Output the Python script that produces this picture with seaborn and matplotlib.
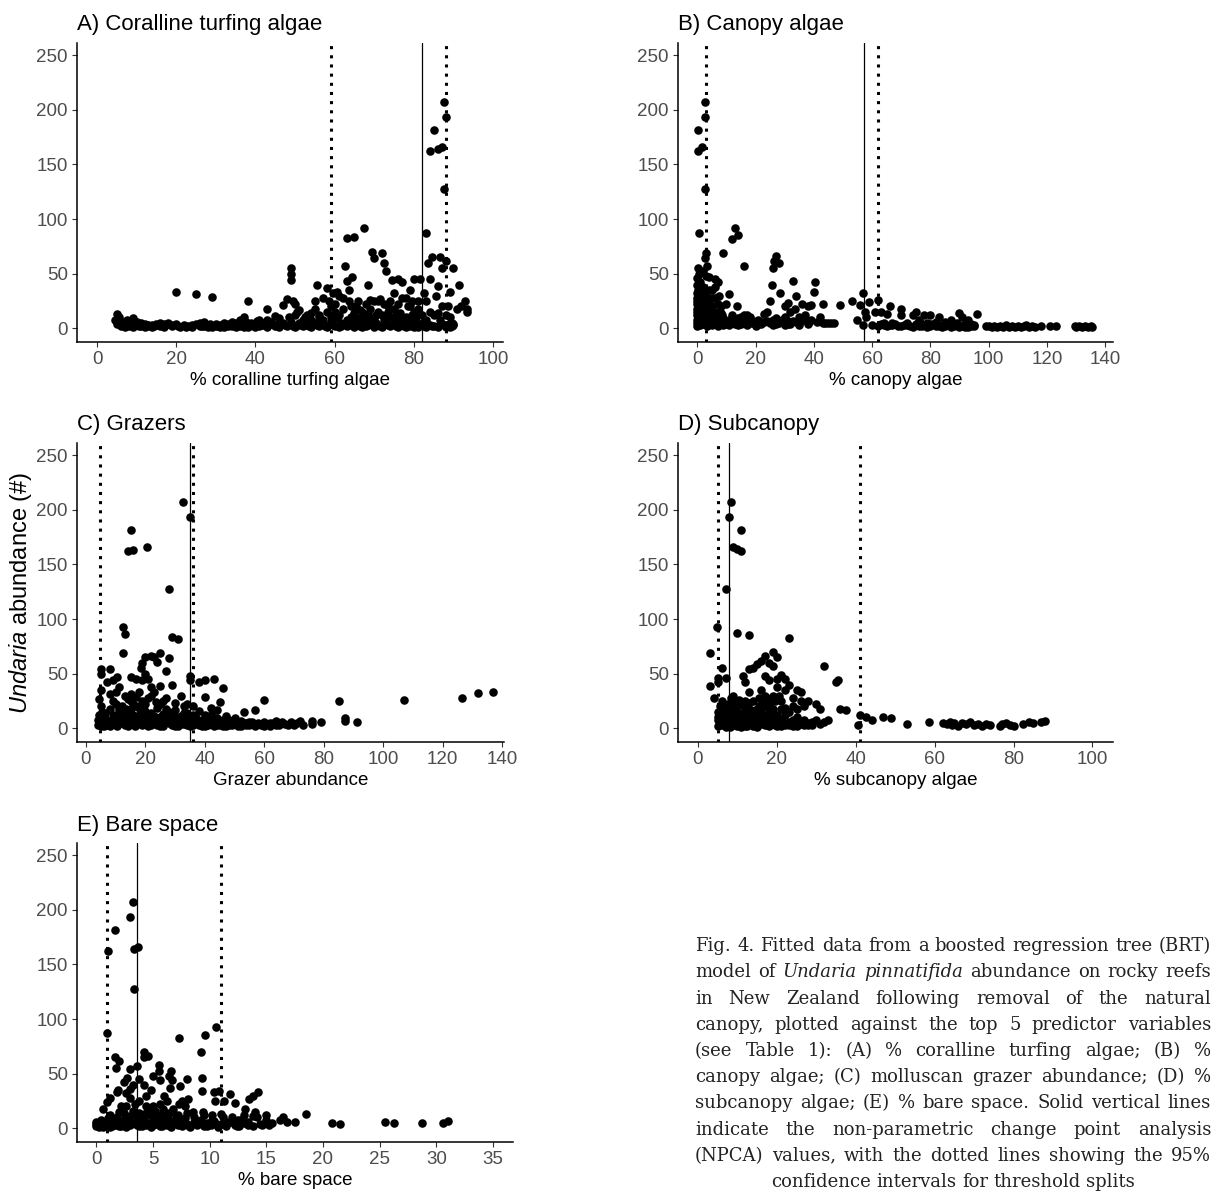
import matplotlib
matplotlib.use('Agg')
import matplotlib.pyplot as plt
import seaborn as sns
import pandas as pd

sns.set_style('white')
plt.rcParams['font.family'] = ['Liberation Sans', 'DejaVu Sans']
plt.rcParams['mathtext.fontset'] = 'custom'
plt.rcParams['mathtext.rm'] = 'Liberation Sans'
plt.rcParams['mathtext.it'] = 'Liberation Sans:italic'

# ---- data: (predictor value, Undaria abundance) ----
coral_pts = [
    (4.5, 8), (5, 13), (5.5, 10), (6, 5), (7, 3), (7.5, 8), (8, 5), (9, 9), (10, 4), (11, 2), (12, 4),
    (13, 2), (14, 3), (15, 4), (16, 5), (17, 4), (18, 5), (19, 3), (20, 33), (20.5, 2), (21, 1), (24, 3),
    (25, 31), (26, 5), (27, 2), (28, 1), (29, 29), (30, 2), (31, 3), (32, 1), (33, 4), (34, 2), (35, 5),
    (36, 8), (36.5, 3), (37, 10), (38, 25), (38.5, 2), (39, 5), (40, 3), (41, 8), (42, 3), (43, 18),
    (44, 4), (45, 2), (46, 5), (47, 21), (48, 27), (48.5, 10), (49, 55), (49, 50), (49, 44), (49.5, 25),
    (50, 22), (50.5, 15), (51, 5), (52, 8), (53, 3), (54, 14), (55, 18), (55.5, 40), (56, 10), (57, 5),
    (58, 37), (58.5, 25), (59, 20), (59.5, 32), (60, 15), (61, 30), (61.5, 5), (62, 18), (62.5, 57),
    (63, 43), (63, 83), (63.5, 25), (64, 10), (64.5, 47), (65, 84), (65.5, 20), (66, 8), (67, 15),
    (67.5, 92), (68, 5), (68.5, 40), (69, 26), (69.5, 70), (70, 64), (70.5, 12), (71, 25), (72, 69),
    (72.5, 60), (73, 52), (73.5, 20), (74, 10), (74.5, 44), (75, 32), (75.5, 12), (76, 45), (77, 42),
    (77.5, 5), (78, 28), (78.5, 20), (79, 35), (79.5, 12), (80, 45), (80.5, 3), (81, 25), (81.5, 45),
    (82, 5), (82.5, 32), (83, 87), (83.5, 60), (84, 162), (84, 45), (84.5, 65), (85, 181), (85.5, 30),
    (86, 164), (86, 39), (86.5, 65), (87, 166), (87, 55), (87.5, 127), (87.5, 207), (88, 193), (88, 62),
    (88.5, 20), (89, 33), (89.5, 5), (90, 55), (91.5, 40), (92, 20), (93, 25), (93.5, 15), (93.5, 18),
    (6, 2), (6.5, 6), (7, 1), (8, 2), (8.5, 7), (9, 1), (10, 6), (11, 5), (12, 1), (13, 3), (14, 1),
    (15, 3), (16, 2), (17, 1), (18, 4), (19, 2), (22, 3), (23, 2), (24, 1), (25, 4), (26, 2), (27, 6),
    (28, 3), (29, 1), (30, 4), (31, 1), (32, 5), (33, 2), (34, 6), (35, 1), (35.5, 3), (36, 2), (37, 1),
    (37.5, 6), (38, 1), (39, 3), (40, 1), (40.5, 7), (41, 2), (42, 5), (43, 1), (44, 6), (45, 3), (46, 1),
    (47, 5), (48, 2), (49, 6), (50, 1), (51, 3), (52, 2), (52.5, 10), (53, 6), (54, 1), (55, 5), (56, 2),
    (57, 8), (58, 1), (59, 6), (60, 2), (60.5, 9), (61, 1), (62, 4), (63, 2), (64, 6), (65, 1), (65.5, 9),
    (66, 3), (67, 1), (67.5, 6), (68, 2), (69, 9), (70, 1), (70.5, 5), (71, 3), (72, 1), (72.5, 8),
    (73, 4), (74, 2), (75, 6), (76, 1), (76.5, 9), (77, 3), (78, 1), (78.5, 6), (79, 2), (80, 8), (81, 1),
    (81.5, 4), (82.5, 2), (83, 1), (84, 3), (85, 2), (86, 1), (87, 4), (88, 2), (88.5, 3), (89, 1),
    (55, 25), (56, 12), (57, 28), (58, 15), (59, 10), (60, 22), (60.5, 33), (61, 12), (62, 28), (63, 8),
    (63.5, 35), (64, 20), (65, 14), (66, 25), (66.5, 17), (67, 10), (68, 22), (68.5, 13), (69, 18),
    (70, 25), (70, 8), (71, 15), (71.5, 27), (72, 12), (72.5, 22), (73, 9), (73.5, 15), (74, 25),
    (75, 18), (75.5, 7), (76, 22), (76.5, 14), (77, 28), (78, 10), (79, 20), (79.5, 25), (80, 15),
    (80.5, 10), (81, 18), (82, 12), (83, 25), (83, 8), (84, 15), (85, 12), (86, 14), (86.5, 8), (87, 20),
    (88, 12), (89, 10), (89, 4), (90, 3), (91, 18),
    (5, 4), (6.5, 3), (9.5, 3), (10.5, 2), (12.5, 3), (14.5, 2), (20, 4), (22.5, 1), (26.5, 2), (28.5, 4),
    (30.5, 2), (33.5, 3), (36, 5), (38.5, 4), (41.5, 3), (43.5, 4), (45.5, 2), (47.5, 3), (49.5, 2),
    (51.5, 4), (53.5, 2), (55.5, 3), (57.5, 2), (59.5, 3), (61.5, 2), (63.5, 3), (66.5, 2), (68.5, 3),
    (71.5, 2), (73.5, 3), (75.5, 2), (77.5, 2), (79.5, 3), (80, 1), (82, 3), (84.5, 2), (86.5, 3), (88, 1),
    (89.5, 2), (90, 4), (43, 8), (46, 9), (50, 12), (51, 17), (53, 12), (54, 8), (45, 11),
]

canopy_pts = [
    (0.3, 181), (0.3, 162), (1.8, 166), (2.5, 207), (2.5, 193), (2.5, 127), (0.5, 87), (3, 69), (2.8, 64),
    (3.3, 57), (0.2, 55), (0.5, 50), (0, 46), (1, 42), (2, 52), (3, 48), (4, 47), (5, 35), (6, 45),
    (7, 42), (7.5, 30), (8, 20), (9, 69), (10, 22), (11, 31), (12, 82), (13, 92), (13.5, 20), (14, 85),
    (15, 10), (16, 57), (17, 12), (18, 10), (19, 5), (20, 3), (21, 8), (22, 6), (23, 13), (24, 15),
    (25, 25), (25.5, 40), (26, 55), (26.5, 62), (27, 66), (28, 60), (28.5, 32), (29, 8), (30, 20),
    (31, 23), (32, 15), (33, 43), (33.5, 18), (34, 30), (35, 10), (36, 22), (37, 8), (38, 20), (38.5, 6),
    (39, 21), (40, 33), (40.5, 42), (42, 10), (43, 22), (44, 5), (47, 5), (49, 21), (53, 25), (55, 8),
    (56, 21), (57, 32), (57.5, 15), (57, 3), (58, 10), (59, 24), (61, 15), (62, 26), (63, 15), (64, 5),
    (65, 13), (66, 20), (67, 5), (70, 18), (70, 12), (72, 5), (74, 12), (75, 15), (76, 8), (77, 4),
    (78, 12), (79, 5), (80, 12), (82, 6), (83, 10), (84, 3), (85, 6), (86, 4), (87, 8), (88, 3), (89, 5),
    (90, 14), (91, 10), (92, 4), (93, 8), (94, 4), (96, 13),
    (0, 2), (0, 8), (0, 15), (0, 22), (0, 28), (0.2, 35), (0.5, 5), (0.5, 12), (0.8, 19), (1, 26), (1, 3),
    (1.5, 9), (1.5, 31), (2, 14), (2, 38), (2.2, 4), (2.5, 22), (3, 10), (3, 30), (3.5, 2), (3.5, 17),
    (4, 7), (4, 25), (4.5, 13), (5, 3), (5, 20), (5.5, 9), (6, 5), (6, 28), (6.5, 15), (7, 2), (7.5, 8),
    (8, 4), (8.5, 12), (9, 3), (10, 6), (11, 3), (12, 7), (13, 4), (14, 9), (15, 4), (16, 6), (17, 3),
    (18, 5), (19, 7), (20, 2), (22, 4), (24, 7), (26, 3), (27, 9), (28, 5), (30, 3), (31, 7), (32, 4),
    (34, 6), (35, 3), (36, 8), (38, 4), (45, 5),
    (0, 5), (0, 12), (0, 18), (0, 25), (0, 32), (0, 40), (0.5, 9), (0.5, 16), (0.5, 30), (1, 6), (1, 14),
    (1, 20), (1, 35), (1.5, 4), (1.5, 24), (2, 8), (2, 18), (2, 28), (2.5, 12), (2.5, 33), (3, 5), (3, 20),
    (3.5, 8), (3.5, 25), (4, 12), (4, 35), (4.5, 5), (4.5, 20), (5, 10), (5, 28), (5.5, 15), (6, 8),
    (6, 38), (6.5, 4), (7, 12), (7, 22), (8, 6), (8, 14), (9, 9), (10, 4), (11, 8), (12, 12), (13, 6),
    (14, 3), (15, 8), (16, 12), (17, 5), (18, 8), (20, 6), (21, 4), (23, 6), (25, 5), (26, 8), (27, 4),
    (29, 6), (30, 10), (31, 4), (33, 7), (35, 5), (37, 12), (39, 8), (41, 6), (43, 5), (46, 5),
    (60, 3), (62, 2), (63, 4), (66, 3), (68, 4), (69, 2), (71, 3), (73, 2), (75, 4), (76, 2), (78, 3),
    (79, 1), (80, 2), (81, 4), (82, 2), (84, 1), (85, 2), (87, 1), (88, 2), (89, 3), (90, 1), (91, 2),
    (92, 3), (93, 1), (94, 2), (95, 3), (99, 2), (100, 2), (101, 1), (102, 2), (103, 1), (104, 2),
    (105, 1), (106, 3), (107, 1), (108, 2), (109, 1), (110, 2), (111, 1), (112, 2), (113, 3), (114, 1),
    (115, 2), (116, 1), (118, 2), (121, 2), (123, 2), (129.5, 2), (130, 1), (131, 2), (132, 1), (133, 2),
    (134, 1), (135, 2), (135.5, 1),
    (64, 3), (65, 2), (67, 3), (70, 2), (72, 3), (74, 1), (77, 2), (80, 4), (83, 2), (86, 3), (90, 2),
    (92, 1), (95, 2),
]

grazer_pts = [
    (32.5, 207), (35, 193), (15, 181), (14, 162), (16, 163), (20.5, 166), (28, 127), (12.5, 93), (13, 86),
    (29, 84), (31, 82), (12.5, 69), (25, 69), (22, 66), (20, 65), (23, 65), (19, 60), (18.5, 55), (24, 61),
    (28, 64), (27, 52), (5, 54), (5, 50), (8, 54), (10.5, 47), (15, 47), (17, 45), (19, 44), (20, 50),
    (22, 38), (25, 39), (29, 40), (35, 48), (35, 44), (38, 42), (40, 44), (43, 45), (46, 37), (40, 29),
    (45, 24), (42, 19), (44, 17), (53, 15), (57, 17), (60, 26), (85, 25), (87, 9), (87, 7), (91, 6),
    (107, 26), (126.5, 28), (132, 32), (137, 33), (5, 35), (4.5, 27), (5, 20), (5.5, 15), (7, 42), (8, 31),
    (9, 44), (11, 38), (10, 33), (12, 20), (14, 27), (15, 31), (17, 29), (18, 33), (20, 22), (21, 45),
    (22, 30), (26, 25), (27, 28), (30, 23), (32, 30), (33, 20), (34, 22), (36, 20), (30, 10),
    (4, 3), (5, 2), (6, 4), (7, 8), (8, 2), (9, 12), (10, 3), (11, 15), (12, 5), (13, 10), (14, 2),
    (15, 18), (16, 6), (17, 3), (18, 12), (19, 4), (20, 9), (21, 2), (22, 14), (23, 5), (24, 3), (25, 10),
    (26, 2), (27, 7), (28, 15), (29, 3), (30, 6), (31, 2), (32, 11), (33, 4), (34, 8), (35, 2), (36, 12),
    (37, 5), (38, 3), (39, 8), (40, 2), (41, 10), (42, 4), (43, 2), (44, 6), (45, 3), (46, 8), (47, 2),
    (48, 5), (49, 3), (50, 6), (51, 4), (52, 2), (53, 5), (54, 3), (55, 6), (56, 4), (57, 2), (58, 5),
    (59, 3), (60, 6), (61, 4), (62, 2), (63, 5), (64, 7), (65, 3), (67, 4), (69, 6), (70, 3), (72, 7),
    (76, 7), (76, 4), (79, 6),
    (6, 10), (8, 18), (10, 22), (12, 8), (14, 15), (16, 22), (18, 7), (20, 16), (22, 8), (24, 19),
    (26, 13), (28, 5), (30, 17), (32, 7), (34, 14), (36, 6), (38, 16), (40, 7), (42, 12), (44, 9),
    (47, 11), (48, 8), (50, 9),
    (4, 8), (4.5, 12), (5, 5), (6, 2), (6.5, 14), (7, 3), (8, 6), (9, 4), (10, 9), (10.5, 2), (11, 6),
    (12, 13), (13, 3), (13.5, 18), (14, 8), (15, 5), (16, 12), (16.5, 2), (17, 8), (18, 19), (19, 3),
    (19.5, 13), (20, 5), (21, 10), (22, 3), (23, 11), (23.5, 24), (24, 7), (25, 2), (26, 6), (27, 18),
    (28, 9), (29, 12), (30, 2), (31, 8), (32, 4), (33, 14), (34, 3), (35, 6), (36, 3), (37, 9), (38, 5),
    (39, 2), (40, 12), (41, 3), (42, 6), (43, 9), (44, 3), (45, 5), (46, 2), (47, 5), (48, 3), (49, 6),
    (50, 4), (51, 2), (52, 7), (54, 5), (55, 3), (56, 6), (58, 4), (60, 2), (62, 5), (64, 3), (66, 6),
    (68, 3), (71, 5), (73, 3), (17, 20), (19, 25), (21, 28), (23, 33), (25, 22), (15, 25), (13, 30),
    (11, 18), (9, 25),
]

subcanopy_pts = [
    (8.5, 207), (7.8, 193), (11, 181), (9, 166), (10, 164), (11, 162), (7, 127), (4.8, 93), (10, 87),
    (13, 85), (23, 83), (3, 69), (6, 55), (3, 39), (5, 42), (5, 46), (7, 46), (4, 28), (11.5, 48),
    (12, 42), (13, 54), (14, 55), (15, 59), (16, 62), (17, 66), (19, 70), (20, 65), (18, 60), (19, 57),
    (17, 48), (18, 44), (20, 45), (21, 49), (22, 45), (23, 40), (22, 35), (25, 35), (26, 33), (24, 28),
    (16, 35), (17, 30), (18, 27), (19, 30), (20, 38), (21, 25), (22, 19), (25, 18), (27, 20), (28, 25),
    (30, 22), (31, 18), (32, 57), (35, 42), (35.5, 44), (36, 18), (37.5, 17), (40.5, 3), (41, 12),
    (42.5, 10), (44, 8), (47, 10), (49, 9), (53, 4), (58.5, 6), (62, 5), (63, 4), (64, 6), (64.5, 3),
    (65, 5), (66, 2), (67, 5), (68, 4), (69, 6), (70, 3), (71, 4), (72, 2), (73, 4), (74, 3), (76.5, 2),
    (77, 4), (78, 5), (79, 3), (80, 2), (82.5, 4), (84, 6), (85, 5), (87, 6), (88, 7), (13, 33),
    (12, 25), (9, 30), (10, 20), (8, 22),
    (5, 2), (5, 8), (5, 15), (5.5, 5), (6, 12), (6, 3), (6.5, 18), (7, 7), (7, 1), (7.5, 14), (8, 4),
    (8, 10), (8.5, 2), (9, 8), (9, 16), (9.5, 4), (10, 12), (10, 2), (10.5, 6), (11, 10), (11, 22),
    (11.5, 3), (12, 14), (12, 6), (12.5, 2), (13, 9), (13, 18), (13.5, 4), (14, 12), (14, 2), (14.5, 7),
    (15, 14), (15, 3), (15.5, 20), (16, 6), (16.5, 12), (17, 3), (17.5, 8), (18, 15), (18, 2), (18.5, 6),
    (19, 10), (19.5, 3), (20, 8), (21, 2), (21.5, 5), (22, 3), (23, 6), (24, 2), (25, 4), (26, 6),
    (27, 3), (28, 5), (29, 3), (30, 8), (32, 6),
    (5, 10), (5.5, 20), (6, 7), (6, 25), (6.5, 10), (7, 4), (7, 15), (7.5, 22), (8, 1), (8, 17), (8.5, 8),
    (8.5, 28), (9, 3), (9, 12), (9.5, 22), (10, 5), (10, 15), (10.5, 26), (11, 1), (11, 14), (11.5, 8),
    (12, 2), (12, 19), (12.5, 10), (13, 5), (13, 23), (13.5, 14), (14, 7), (14, 25), (14.5, 17), (15, 1),
    (15, 9), (15.5, 28), (16, 4), (16, 17), (16.5, 24), (17, 10), (17, 20), (17.5, 3), (18, 8), (18, 21),
    (19, 6), (19, 18), (19.5, 25), (20, 2), (20, 12), (20.5, 30), (21, 8), (21, 18), (22, 5), (22, 12),
    (23, 3), (23, 15), (24, 8), (24, 20), (25, 2), (25, 10), (26, 4), (26, 25), (27, 8), (28, 3), (29, 6),
    (31, 4), (33, 8),
]

bare_pts = [
    (3.2, 207), (3.0, 193), (1.6, 181), (1.0, 162), (3.3, 164), (3.7, 166), (3.3, 127), (0.9, 87),
    (7.3, 83), (9.6, 85), (10.6, 93), (9.2, 70), (1.6, 65), (1.7, 55), (2.0, 62), (4.2, 70), (4.2, 65),
    (4.6, 66), (5.5, 58), (5.5, 52), (3.6, 57), (3.0, 54), (2.7, 46), (3.2, 40), (3.8, 45), (4.2, 40),
    (5.0, 48), (5.6, 44), (6.4, 48), (6.6, 52), (6.7, 44), (6.5, 37), (7.4, 39), (8.0, 45), (9.3, 46),
    (9.3, 34), (10.4, 33), (10.8, 34), (10.5, 25), (11.3, 25), (11.8, 31), (12.2, 23), (13.1, 18),
    (13.5, 27), (13.8, 30), (14.3, 33), (14.0, 15), (15.0, 12), (16.5, 10), (18.5, 13), (17.5, 6),
    (20.8, 5), (21.5, 4), (25.5, 6), (26.3, 5), (28.7, 5), (30.6, 5), (31.0, 7), (0.6, 18), (0.9, 24),
    (1.2, 28), (1.8, 33), (1.9, 35), (2.2, 20), (2.6, 32), (3.0, 28), (3.8, 25), (4.4, 30), (5.0, 20),
    (5.9, 18), (6.2, 25), (7.3, 22), (7.6, 25), (8.1, 27), (8.5, 15), (9.5, 12), (10.2, 12), (11.2, 10),
    (12.5, 8), (13.0, 12), (14.2, 10), (15.5, 5), (16.2, 8), (16.8, 6),
    (0, 2), (0, 4), (0.2, 1), (0.4, 3), (0.6, 6), (0.8, 2), (1.0, 9), (1.2, 1), (1.4, 5), (1.6, 3),
    (1.8, 10), (2.0, 2), (2.2, 6), (2.4, 14), (2.6, 1), (2.8, 8), (3.0, 3), (3.2, 16), (3.4, 5),
    (3.6, 10), (3.8, 2), (4.0, 7), (4.2, 13), (4.4, 3), (4.6, 18), (4.8, 1), (5.0, 9), (5.2, 4),
    (5.4, 12), (5.6, 2), (5.8, 6), (6.0, 15), (6.2, 3), (6.4, 8), (6.6, 1), (6.8, 5), (7.0, 11),
    (7.2, 3), (7.4, 6), (7.6, 2), (7.8, 9), (8.0, 4), (8.3, 1), (8.6, 6), (8.9, 3), (9.2, 8), (9.5, 2),
    (9.8, 5), (10.1, 3), (10.4, 7), (10.7, 1), (11.0, 4), (11.4, 2), (11.8, 6), (12.2, 3), (12.6, 2),
    (13.0, 5), (13.4, 3), (13.8, 2), (14.4, 4), (15.2, 3),
    (0, 6), (0.2, 3), (0.4, 8), (0.6, 1), (0.8, 5), (1.0, 3), (1.2, 12), (1.4, 2), (1.6, 8), (1.8, 4),
    (2.0, 15), (2.2, 2), (2.4, 8), (2.6, 20), (2.8, 3), (3.0, 11), (3.2, 5), (3.4, 22), (3.6, 3),
    (3.8, 14), (4.0, 2), (4.2, 9), (4.4, 20), (4.6, 5), (4.8, 12), (5.0, 3), (5.2, 16), (5.4, 6),
    (5.6, 22), (5.8, 2), (6.0, 9), (6.2, 5), (6.4, 14), (6.6, 3), (6.8, 18), (7.0, 6), (7.2, 12),
    (7.6, 8), (8.0, 14), (8.2, 2), (8.6, 10), (9.0, 5), (9.4, 15), (9.8, 2), (10.2, 8), (10.6, 4),
    (11.0, 13), (11.5, 6), (12.0, 10), (12.4, 2), (12.8, 8), (13.4, 6), (13.8, 11), (14.6, 3), (15.0, 8),
    (3.0, 36), (2.4, 42), (4.8, 35), (6.0, 30), (7.8, 20),
]

# NPCA threshold (solid) and 95% CI (dotted)
npca = [82, 57.2, 34.9, 7.85, 3.62]
ci_low = [59.1, 3.0, 4.7, 4.97, 0.97]
ci_high = [88.0, 62.2, 35.9, 41.0, 11.03]

titles = ['A) Coralline turfing algae', 'B) Canopy algae', 'C) Grazers', 'D) Subcanopy', 'E) Bare space']
xlabels = ['% coralline turfing algae', '% canopy algae', 'Grazer abundance',
           '% subcanopy algae', '% bare space']
xticks = [[0, 20, 40, 60, 80, 100], [0, 20, 40, 60, 80, 100, 120, 140],
          [0, 20, 40, 60, 80, 100, 120, 140], [0, 20, 40, 60, 80, 100],
          [0, 5, 10, 15, 20, 25, 30, 35]]
xlims = [(-5.05, 102.5), (-6.6, 142.7), (-3.0, 140.6), (-5.06, 105.2), (-1.71, 36.77)]
yticks = [0, 50, 100, 150, 200, 250]

caption = ('Fig. 4. Fitted data from a boosted regression tree (BRT) model of Undaria pinnatifida '
           'abundance on rocky reefs in New Zealand following removal of the natural canopy, '
           'plotted against the top 5 predictor variables (see Table 1): (A) % coralline turfing '
           'algae; (B) % canopy algae; (C) molluscan grazer abundance; (D) % subcanopy algae; '
           '(E) % bare space. Solid vertical lines indicate the non-parametric change point '
           'analysis (NPCA) values, with the dotted lines showing the 95% confidence intervals '
           'for threshold splits')
italic_words = ['Undaria', 'pinnatifida']

W, H = 1215, 1193
fig = plt.figure(figsize=(W / 100, H / 100), dpi=100)

# axes boxes in pixels: left, right, top, bottom
boxes = [(77, 503, 43, 342), (678, 1113, 43, 342), (77, 504, 443, 742),
         (678, 1113, 443, 742), (77, 513, 843, 1142)]
all_pts = [coral_pts, canopy_pts, grazer_pts, subcanopy_pts, bare_pts]

for i, pts in enumerate(all_pts):
    l, r, t, b = boxes[i]
    ax = fig.add_axes([l / W, 1 - b / H, (r - l) / W, (b - t) / H])
    df = pd.DataFrame(pts, columns=['x', 'y'])
    sns.scatterplot(data=df, x='x', y='y', ax=ax, color='black', s=38, linewidth=0, zorder=3)
    ax.axvline(npca[i], color='black', lw=0.9, zorder=2)
    for v in (ci_low[i], ci_high[i]):
        ax.axvline(v, color='black', lw=2.2, ls=(0, (1, 2)), zorder=2)
    ax.set_xlim(*xlims[i])
    ax.set_ylim(-12.5, 261)
    ax.set_xticks(xticks[i])
    ax.set_yticks(yticks)
    sns.despine(ax=ax)
    for s in ('left', 'bottom'):
        ax.spines[s].set_linewidth(1.1)
        ax.spines[s].set_color('black')
    ax.tick_params(axis='both', direction='out', length=3.5, width=0.8, color='#333333',
                   labelsize=13.5, labelcolor='#4D4D4D', pad=3, bottom=True, left=True)
    ax.set_xlabel(xlabels[i], fontsize=13.5, color='black', labelpad=3)
    ax.set_ylabel('')
    ax.set_title(titles[i], loc='left', fontsize=16, color='black', pad=9)
    if i == 2:
        ax.set_ylabel(r'$\mathit{Undaria}$ abundance (#)', fontsize=17, color='black', labelpad=2)

# caption: wrap greedily into the column and justify each full line
col_left, col_right = 695, 1211
cap_size = 13
fig.canvas.draw()
renderer = fig.canvas.get_renderer()
words = []
for w in caption.split():
    t = fig.text(0, 0, w, va='baseline', family='DejaVu Serif', fontsize=cap_size, color='#222222',
                 style='italic' if w in italic_words else 'normal')
    words.append((t, t.get_window_extent(renderer).width))
space = 0.3 * cap_size * 100 / 72
lines, cur, cur_w = [], [], 0
for t, w in words:
    need = w if not cur else cur_w + space + w
    if cur and need > col_right - col_left:
        lines.append(cur)
        cur, cur_w = [(t, w)], w
    else:
        cur.append((t, w))
        cur_w = need
lines.append(cur)

last_base = 1187
for k, line in enumerate(lines):
    ybase = last_base - 26.2 * (len(lines) - 1 - k)
    yf = 1 - ybase / H
    total = sum(w for _, w in line)
    if k == len(lines) - 1:
        x = (col_left + col_right) / 2 - (total + space * (len(line) - 1)) / 2
        gap = space
    else:
        x = col_left
        gap = (col_right - col_left - total) / max(len(line) - 1, 1)
    for t, w in line:
        t.set_position((x / W, yf))
        x += w + gap

fig.savefig('out.png', dpi=100)
